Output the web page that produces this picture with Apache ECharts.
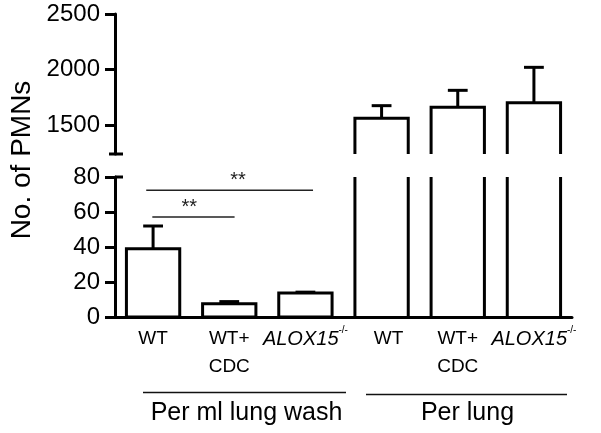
<!DOCTYPE html>
<html><head><meta charset="utf-8">
<script src="https://cdn.jsdelivr.net/npm/echarts@6/dist/echarts.min.js"></script>
<style>html,body{margin:0;padding:0;background:#fff}#c{width:601px;height:433px}</style>
</head><body><div id="c"></div>
<script>
// ---- data ----
const categories = ['WT', 'WT+\nCDC', 'ALOX15', 'WT', 'WT+\nCDC', 'ALOX15'];
const groupLabels = ['Per ml lung wash', 'Per lung'];
const meanValues = [39, 7.6, 13.7, 1561, 1660, 1702];
const errorTops = [52, 8.8, 14.2, 1675, 1813, 2020];
const lowerTicks = [0, 20, 40, 60, 80];
const upperTicks = [1500, 2000, 2500];
const sigStart = [-0.09, -0.01];
const sigEnd = [2.1, 1.07];
const sigLevel = [72.4, 57.1];
const sigText = ['**', '**'];
const sigTextPos = [0.55, 0.45];

// ---- layout / style ----
const FONT = 'Arial, "Liberation Sans", sans-serif';
const GL = 115, GW = 457;
const UP_TOP = 14, UP_H = 140;
const LO_TOP = 177, LO_H = 140;
const LW = 3;
const LO_MAX = 80, UP_MIN = 1240, UP_MAX = 2500;

const chart = echarts.init(document.getElementById('c'), null, {renderer: 'canvas'});

function ln(x1, y1, x2, y2, w, c) {
  return {type: 'line', shape: {x1, y1, x2, y2}, style: {stroke: c || '#000', lineWidth: w || LW}};
}

function lowerBar(params, api) {
  const i = api.value(0), v = api.value(1), e = api.value(2);
  const base = api.coord([i, 0]);
  const band = api.size([1, 0])[0];
  const hw = band * 0.35, cw = band * 0.13;
  const x = base[0], y0 = base[1];
  const ch = [];
  if (v <= LO_MAX) {
    const yt = api.coord([i, v])[1];
    const ye = api.coord([i, e])[1];
    ch.push(ln(x, yt, x, ye));
    ch.push(ln(x - cw, ye, x + cw, ye));
    ch.push({type: 'rect', shape: {x: x - hw, y: yt, width: 2 * hw, height: y0 - yt},
      style: {fill: '#fff', stroke: '#000', lineWidth: LW}});
  } else {
    const yt = api.coord([i, LO_MAX])[1];
    ch.push(ln(x - hw, y0, x - hw, yt));
    ch.push(ln(x + hw, y0, x + hw, yt));
  }
  return {type: 'group', children: ch};
}

function upperBar(params, api) {
  const i = api.value(0), v = api.value(1), e = api.value(2);
  if (v <= UP_MIN) return null;
  const base = api.coord([i, UP_MIN]);
  const band = api.size([1, 0])[0];
  const hw = band * 0.35, cw = band * 0.13;
  const x = base[0], yb = base[1];
  const yt = api.coord([i, v])[1];
  const ye = api.coord([i, e])[1];
  return {type: 'group', children: [
    ln(x, yt, x, ye),
    ln(x - cw, ye, x + cw, ye),
    {type: 'polyline', shape: {points: [[x - hw, yb], [x - hw, yt], [x + hw, yt], [x + hw, yb]]},
      style: {fill: null, stroke: '#000', lineWidth: LW}}
  ]};
}

function sigRender(params, api) {
  const s = api.value(0), e = api.value(1), lvl = api.value(2);
  const c0 = api.coord([0, lvl]);
  const band = api.size([1, 0])[0];
  const x0 = c0[0] + s * band, x1 = c0[0] + e * band;
  const t = sigTextPos[params.dataIndex];
  return {type: 'group', children: [
    ln(x0, c0[1], x1, c0[1], 1.5, '#222'),
    {type: 'text', style: {text: sigText[params.dataIndex], x: x0 + (x1 - x0) * t, y: c0[1] - 10,
      align: 'center', verticalAlign: 'middle', font: '20px ' + FONT, fill: '#222'}}
  ]};
}

const barData = meanValues.map((v, i) => [i, v, errorTops[i]]);
const sigData = sigLevel.map((l, k) => [sigStart[k], sigEnd[k], l]);

const yLabel = {show: true, color: '#000', fontSize: 24, fontFamily: FONT, margin: 15,
  formatter: v => String(v)};
const yTick = {show: true, length: 10, lineStyle: {color: '#000', width: LW}};

const option = {
  animation: false,
  backgroundColor: '#fff',
  grid: [
    {left: GL, top: UP_TOP, width: GW, height: UP_H},
    {left: GL, top: LO_TOP, width: GW, height: LO_H}
  ],
  xAxis: [
    {type: 'category', gridIndex: 0, data: categories, show: false},
    {type: 'category', gridIndex: 1, data: categories,
      axisLine: {lineStyle: {color: '#000', width: LW}},
      axisTick: {show: false},
      axisLabel: {
        interval: 0, margin: 8, color: '#000', fontSize: 19, fontFamily: FONT, lineHeight: 28,
        formatter: function (val, idx) {
          if (val === 'ALOX15') return '{it|ALOX15}{sup|-/-}';
          if (idx === 3) return '{wt2|WT}';
          return val;
        },
        rich: {
          it: {fontStyle: 'italic', fontSize: 20, fontFamily: FONT, color: '#000', lineHeight: 28},
          sup: {fontSize: 10, fontFamily: FONT, color: '#000', verticalAlign: 'top', lineHeight: 22},
          wt2: {fontSize: 19, fontFamily: FONT, color: '#000', lineHeight: 28, padding: [0, 0, 0, 14]}
        }
      }
    }
  ],
  yAxis: [
    {type: 'value', gridIndex: 0, min: UP_MIN, max: UP_MAX,
      axisLine: {show: true, lineStyle: {color: '#000', width: LW}},
      axisTick: Object.assign({customValues: upperTicks}, yTick),
      axisLabel: Object.assign({customValues: upperTicks}, yLabel),
      splitLine: {show: false}},
    {type: 'value', gridIndex: 1, min: 0, max: LO_MAX, interval: 20,
      axisLine: {show: true, lineStyle: {color: '#000', width: LW}},
      axisTick: yTick,
      axisLabel: yLabel,
      splitLine: {show: false}}
  ],
  series: [
    {type: 'custom', xAxisIndex: 0, yAxisIndex: 0, renderItem: upperBar, data: barData,
      encode: {x: 0, y: 1}, z: 3},
    {type: 'custom', xAxisIndex: 1, yAxisIndex: 1, renderItem: lowerBar, data: barData,
      encode: {x: 0, y: 1}, z: 3},
    {type: 'custom', xAxisIndex: 1, yAxisIndex: 1, renderItem: sigRender, data: sigData,
      encode: {x: 0, y: 2}, z: 4}
  ],
  graphic: [
    {type: 'text', x: 22, y: 160, rotation: Math.PI / 2,
      style: {text: 'No. of PMNs', font: '28px ' + FONT, fill: '#000', align: 'center', verticalAlign: 'middle'}},
    // axis break caps
    {type: 'line', shape: {x1: GL - 6, y1: UP_TOP + UP_H, x2: GL + 8, y2: UP_TOP + UP_H}, style: {stroke: '#000', lineWidth: LW}},
    {type: 'line', shape: {x1: GL, y1: LO_TOP, x2: GL + 8, y2: LO_TOP}, style: {stroke: '#000', lineWidth: LW}},
    // group brackets
    {type: 'line', shape: {x1: 143, y1: 392.5, x2: 346, y2: 392.5}, style: {stroke: '#111', lineWidth: 1.5}},
    {type: 'line', shape: {x1: 366, y1: 394.5, x2: 567, y2: 394.5}, style: {stroke: '#111', lineWidth: 1.5}},
    {type: 'text', x: 246.5, y: 413, style: {text: groupLabels[0], font: '25px ' + FONT, fill: '#000', align: 'center', verticalAlign: 'middle'}},
    {type: 'text', x: 467.5, y: 413, style: {text: groupLabels[1], font: '25px ' + FONT, fill: '#000', align: 'center', verticalAlign: 'middle'}}
  ]
};
chart.setOption(option);
</script>
</body></html>
